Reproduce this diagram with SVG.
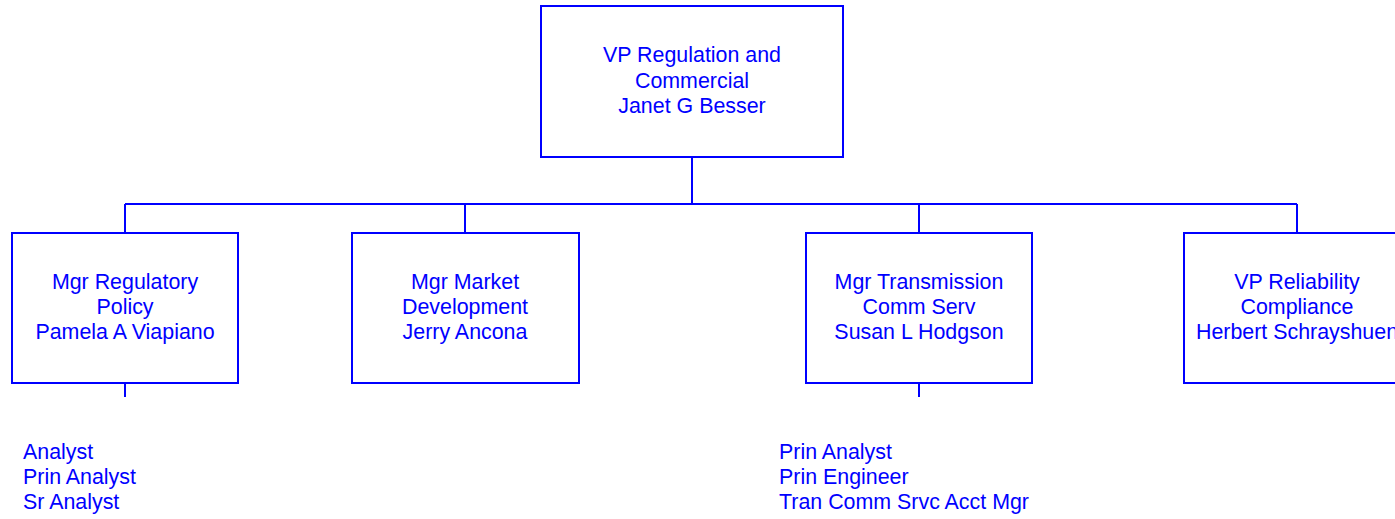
<svg xmlns="http://www.w3.org/2000/svg" width="1395" height="519" viewBox="0 0 1395 519">
<style>
.box{fill:#fff;stroke:#0000ff;stroke-width:2}
.ln{fill:none;stroke:#0000ff;stroke-width:2}
text{font-family:"Liberation Sans",Arial,sans-serif;font-size:21.4px;fill:#0000ff}
.c{text-anchor:middle}
</style>
<rect width="1395" height="519" fill="#fff"/>
<g id="connectors">
<path class="ln" d="M692,157V204M125,204H1297M125,204V233M465,204V233M919,204V233M1297,204V233M125,383V397M919,383V397"/>
</g>
<g id="vp-regulation">
<rect class="box" x="541" y="6" width="302" height="151"/>
<text class="c" x="692" y="62">VP Regulation and</text>
<text class="c" x="692" y="88">Commercial</text>
<text class="c" x="692" y="113">Janet G Besser</text>
</g>
<g id="mgr-regulatory">
<rect class="box" x="12" y="233" width="226" height="150"/>
<text class="c" x="125" y="289">Mgr Regulatory</text>
<text class="c" x="125" y="314">Policy</text>
<text class="c" x="125" y="339">Pamela A Viapiano</text>
</g>
<g id="mgr-market">
<rect class="box" x="352" y="233" width="227" height="150"/>
<text class="c" x="465" y="289">Mgr Market</text>
<text class="c" x="465" y="314">Development</text>
<text class="c" x="465" y="339">Jerry Ancona</text>
</g>
<g id="mgr-transmission">
<rect class="box" x="806" y="233" width="226" height="150"/>
<text class="c" x="919" y="289">Mgr Transmission</text>
<text class="c" x="919" y="314">Comm Serv</text>
<text class="c" x="919" y="339">Susan L Hodgson</text>
</g>
<g id="vp-reliability">
<rect class="box" x="1184" y="233" width="226" height="150"/>
<text class="c" x="1297" y="289">VP Reliability</text>
<text class="c" x="1297" y="314">Compliance</text>
<text class="c" x="1297" y="339">Herbert Schrayshuen</text>
</g>
<g id="regulatory-staff">
<text x="23" y="459">Analyst</text>
<text x="23" y="484">Prin Analyst</text>
<text x="23" y="509">Sr Analyst</text>
</g>
<g id="transmission-staff">
<text x="779" y="459">Prin Analyst</text>
<text x="779" y="484">Prin Engineer</text>
<text x="779" y="509">Tran Comm Srvc Acct Mgr</text>
</g>
</svg>
